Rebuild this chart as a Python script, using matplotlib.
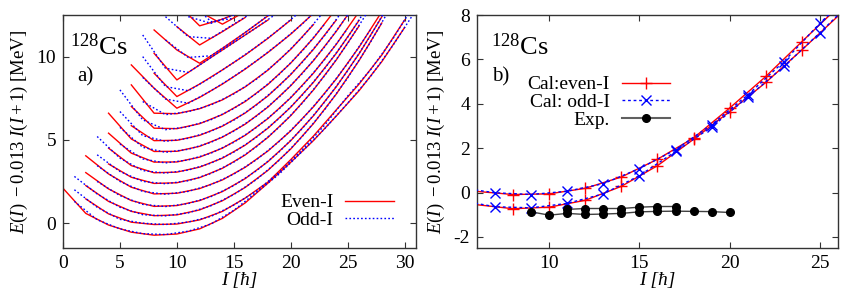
import numpy as np
import matplotlib
matplotlib.use('Agg')
import matplotlib.pyplot as plt
from matplotlib.lines import Line2D

plt.rcParams['font.family'] = ['Liberation Serif', 'DejaVu Serif']
plt.rcParams['mathtext.fontset'] = 'custom'
plt.rcParams['mathtext.rm'] = 'Liberation Serif'
plt.rcParams['mathtext.it'] = 'Liberation Serif:italic'
plt.rcParams['mathtext.bf'] = 'Liberation Serif:bold'
plt.rcParams['axes.unicode_minus'] = False

# ---------------- panel a) : band families (value at each integer spin from start) ----
band_start = [0, 1, 1, 2, 2, 3, 3, 4, 4, 5, 5, 6, 6, 7, 7, 8, 9, 10, 10]
band_energy = [
    [2.09, 1.30, 0.58, 0.20, -0.12, -0.35, -0.55, -0.64, -0.73, -0.69, -0.66, -0.49, -0.35, -0.06, 0.28, 0.76,
     1.21, 1.85, 2.40, 2.95, 3.65, 4.30, 4.96, 5.68, 6.43, 7.20, 7.95, 8.80, 9.70, 10.70, 11.75, 12.80],
    [2.00, 1.45, 0.95, 0.55, 0.22, 0.05, -0.01, -0.09, -0.09, -0.06, 0.06, 0.19, 0.40, 0.70, 1.08, 1.50,
     1.93, 2.46, 3.06, 3.81, 4.40, 5.23, 5.90, 6.80, 7.63, 8.35, 9.20, 10.10, 11.10, 12.20, 13.30],
    [2.80, 2.25, 1.75, 1.30, 0.95, 0.70, 0.50, 0.44, 0.43, 0.49, 0.61, 0.79, 1.04, 1.34, 1.71, 2.14, 2.62,
     3.17, 3.78, 4.45, 5.19, 5.98, 6.83, 7.75, 8.72, 9.76, 10.86, 12.02, 13.24],
    [3.03, 2.50, 2.05, 1.65, 1.35, 1.12, 1.00, 0.99, 1.05, 1.17, 1.35, 1.59, 1.89, 2.25, 2.67, 3.15, 3.69,
     4.29, 4.95, 5.67, 6.45, 7.29, 8.19, 9.15, 10.17, 11.25, 12.39, 13.59],
    [4.04, 3.45, 2.95, 2.50, 2.15, 1.90, 1.75, 1.73, 1.79, 1.90, 2.07, 2.31, 2.59, 2.94, 3.35, 3.81, 4.33,
     4.91, 5.54, 6.24, 6.99, 7.80, 8.66, 9.59, 10.57, 11.61, 12.70],
    [4.10, 3.55, 3.10, 2.75, 2.50, 2.38, 2.36, 2.42, 2.54, 2.73, 2.98, 3.29, 3.66, 4.09, 4.59, 5.15, 5.77,
     6.45, 7.19, 8.00, 8.87, 9.80, 10.79, 11.84, 12.96],
    [5.20, 4.50, 3.90, 3.45, 3.15, 3.02, 3.00, 3.06, 3.18, 3.36, 3.60, 3.90, 4.26, 4.68, 5.16, 5.70, 6.30,
     6.96, 7.68, 8.46, 9.30, 10.20, 11.16, 12.18, 13.26],
    [5.40, 4.75, 4.20, 3.85, 3.66, 3.61, 3.67, 3.79, 3.96, 4.20, 4.50, 4.85, 5.27, 5.75, 6.28, 6.87, 7.53,
     8.24, 9.01, 9.84, 10.74, 11.69, 12.70],
    [6.60, 5.75, 5.05, 4.55, 4.30, 4.25, 4.31, 4.43, 4.61, 4.85, 5.16, 5.52, 5.94, 6.43, 6.97, 7.58, 8.25,
     8.97, 9.76, 10.61, 11.52, 12.49, 13.50],
    [6.70, 5.85, 5.25, 4.95, 4.91, 4.97, 5.09, 5.27, 5.52, 5.82, 6.18, 6.61, 7.10, 7.64, 8.25, 8.92, 9.65,
     10.44, 11.29, 12.20, 13.18],
    [8.00, 7.00, 6.20, 5.70, 5.61, 5.67, 5.79, 5.97, 6.21, 6.52, 6.88, 7.30, 7.79, 8.33, 8.94, 9.61, 10.33,
     11.12, 11.97, 12.88],
    [8.30, 7.30, 6.60, 6.51, 6.57, 6.69, 6.87, 7.10, 7.40, 7.76, 8.18, 8.65, 9.19, 9.79, 10.44, 11.16, 11.93,
     12.77],
    [9.50, 8.75, 8.10, 7.45, 6.90, 7.20, 7.55, 7.95, 8.35, 8.80, 9.25, 9.75, 10.25, 10.80, 11.35, 11.95,
     12.60, 13.30],
    [10.00, 9.00, 8.20, 7.60, 7.95, 8.35, 8.75, 9.20, 9.65, 10.10, 10.60, 11.10, 11.65, 12.20, 12.80],
    [11.30, 10.20, 9.30, 8.60, 9.05, 9.50, 9.95, 10.40, 10.85, 11.30, 11.75, 12.20, 12.70],
    [11.60, 11.00, 10.40, 9.95, 9.60, 10.05, 10.50, 10.95, 11.45, 11.95, 12.45, 13.00],
    [12.40, 11.80, 11.20, 10.70, 11.10, 11.50, 11.95, 12.35, 12.80],
    [13.20, 12.40, 11.85, 12.00, 12.25, 12.50, 12.80],
    [14.20, 13.40, 12.70, 12.10, 11.95, 12.30, 12.70],
]

# ---------------- panel b) : calculated yrast / yrare and experiment ----------------
cal_even_I = [6, 8, 10, 12, 14, 16, 18, 20, 22, 24, 26]
cal_even_band1 = [-0.55, -0.73, -0.66, -0.35, 0.28, 1.21, 2.40, 3.65, 4.96, 6.43, 7.95]
cal_even_band2 = [0.05, -0.09, -0.06, 0.19, 0.70, 1.50, 2.46, 3.81, 5.23, 6.80, 8.35]
cal_odd_I = [5, 7, 9, 11, 13, 15, 17, 19, 21, 23, 25, 27]
cal_odd_band1 = [-0.35, -0.64, -0.69, -0.49, -0.06, 0.76, 1.85, 2.95, 4.30, 5.68, 7.20, 8.80]
cal_odd_band2 = [0.22, -0.01, -0.09, 0.06, 0.40, 1.08, 1.93, 3.06, 4.40, 5.90, 7.63, 9.20]

exp_I_a = [9, 10, 11, 12, 13, 14, 15, 16, 17, 18, 19, 20]
exp_E_a = [-0.87, -1.02, -0.94, -0.99, -0.97, -0.94, -0.87, -0.85, -0.84, -0.85, -0.86, -0.90]
exp_I_b = [11, 12, 13, 14, 15, 16, 17]
exp_E_b = [-0.76, -0.72, -0.72, -0.72, -0.66, -0.63, -0.63]

RED = '#ff0000'
BLUE = '#0000ff'
EDGE = '#333333'
FS = 14

fig = plt.figure(figsize=(8.45, 3.0), dpi=100)
ax1 = fig.add_axes([63 / 845, 1 - 248 / 300, 353 / 845, 233 / 300])
ax2 = fig.add_axes([477 / 845, 1 - 248 / 300, 361 / 845, 233 / 300])

for s, E in zip(band_start, band_energy):
    I = np.arange(s, s + len(E))
    E = np.asarray(E)
    ev = (I % 2 == 0)
    ax1.plot(I[ev], E[ev], color=RED, lw=1.0, zorder=2)
for s, E in zip(band_start, band_energy):
    I = np.arange(s, s + len(E))
    E = np.asarray(E)
    od = (I % 2 == 1)
    ax1.plot(I[od], E[od], color=BLUE, lw=1.0, ls=(0, (1.2, 1.6)), zorder=3)

ax1.set_xlim(0, 31)
ax1.set_ylim(-1.5, 12.5)
ax1.set_xticks([0, 5, 10, 15, 20, 25, 30])
ax1.set_yticks([0, 5, 10])

h1 = [Line2D([], [], color=RED, lw=1.0), Line2D([], [], color=BLUE, lw=1.0, ls=(0, (1.2, 1.6)))]
ax1.legend(h1, ['Even-I', 'Odd-I'], loc='lower right', bbox_to_anchor=(0.965, 0.04),
           frameon=False, markerfirst=False, fontsize=FS, handlelength=2.5,
           labelspacing=0.0, borderpad=0, handletextpad=0.6)

# panel b
ax2.plot(cal_even_I, cal_even_band1, color=RED, lw=1.0, marker='+', ms=8, mew=1.0,
         markevery=slice(1, -1), zorder=2)
ax2.plot(cal_even_I, cal_even_band2, color=RED, lw=1.0, marker='+', ms=8, mew=1.0,
         markevery=slice(1, -1), zorder=2)
ax2.plot(cal_odd_I, cal_odd_band1, color=BLUE, lw=1.0, ls=(0, (2, 2)), marker='x', ms=7, mew=1.0,
         markevery=slice(1, -1), zorder=3)
ax2.plot(cal_odd_I, cal_odd_band2, color=BLUE, lw=1.0, ls=(0, (2, 2)), marker='x', ms=7, mew=1.0,
         markevery=slice(1, -1), zorder=3)
ax2.plot(exp_I_a, exp_E_a, color='#404040', lw=1.0, marker='o', ms=5.5, mfc='black', mec='black', zorder=4)
ax2.plot(exp_I_b, exp_E_b, color='#404040', lw=1.0, marker='o', ms=5.5, mfc='black', mec='black', zorder=4)

ax2.set_xlim(6, 26)
ax2.set_ylim(-2.5, 8)
ax2.set_xticks([10, 15, 20, 25])
ax2.set_yticks([-2, 0, 2, 4, 6, 8])

h2 = [Line2D([], [], color=RED, lw=1.0, marker='+', ms=8, mew=1.0),
      Line2D([], [], color=BLUE, lw=1.0, ls=(0, (2, 2)), marker='x', ms=7, mew=1.0),
      Line2D([], [], color='#606060', lw=1.5, marker='o', ms=5.5, mfc='black', mec='black')]
ax2.legend(h2, ['Cal:even-I', 'Cal: odd-I', 'Exp.'], loc='upper right',
           bbox_to_anchor=((680 - 477) / 361, (248 - 66) / 233), frameon=False, markerfirst=False,
           fontsize=FS, handlelength=2.5, labelspacing=0.0, borderpad=0, handletextpad=0.6)

for ax in (ax1, ax2):
    for sp in ax.spines.values():
        sp.set_color(EDGE)
        sp.set_linewidth(1.0)
    ax.tick_params(direction='in', top=True, right=True, length=4.5, width=0.8, color=EDGE,
                   labelsize=FS, pad=5)
    ax.set_ylabel(r'$E(I)\ -0.013\ I(I+1)$ [MeV]', fontsize=13.5)
    ax.set_xlabel('I [ħ]', fontsize=FS, fontstyle='italic', labelpad=0)

ax1.yaxis.set_label_coords(-33 / 353, 0.5)
ax2.yaxis.set_label_coords(-30 / 361, 0.5)

fig.text(70 / 845, 1 - 55 / 300, r'$^{128}$Cs', fontsize=19, va='baseline')
fig.text(77 / 845, 1 - 81 / 300, 'a)', fontsize=FS + 1, va='baseline')
fig.text(491 / 845, 1 - 55 / 300, r'$^{128}$Cs', fontsize=19, va='baseline')
fig.text(492 / 845, 1 - 81 / 300, 'b)', fontsize=FS + 1, va='baseline')

fig.savefig('out.png', dpi=100)
